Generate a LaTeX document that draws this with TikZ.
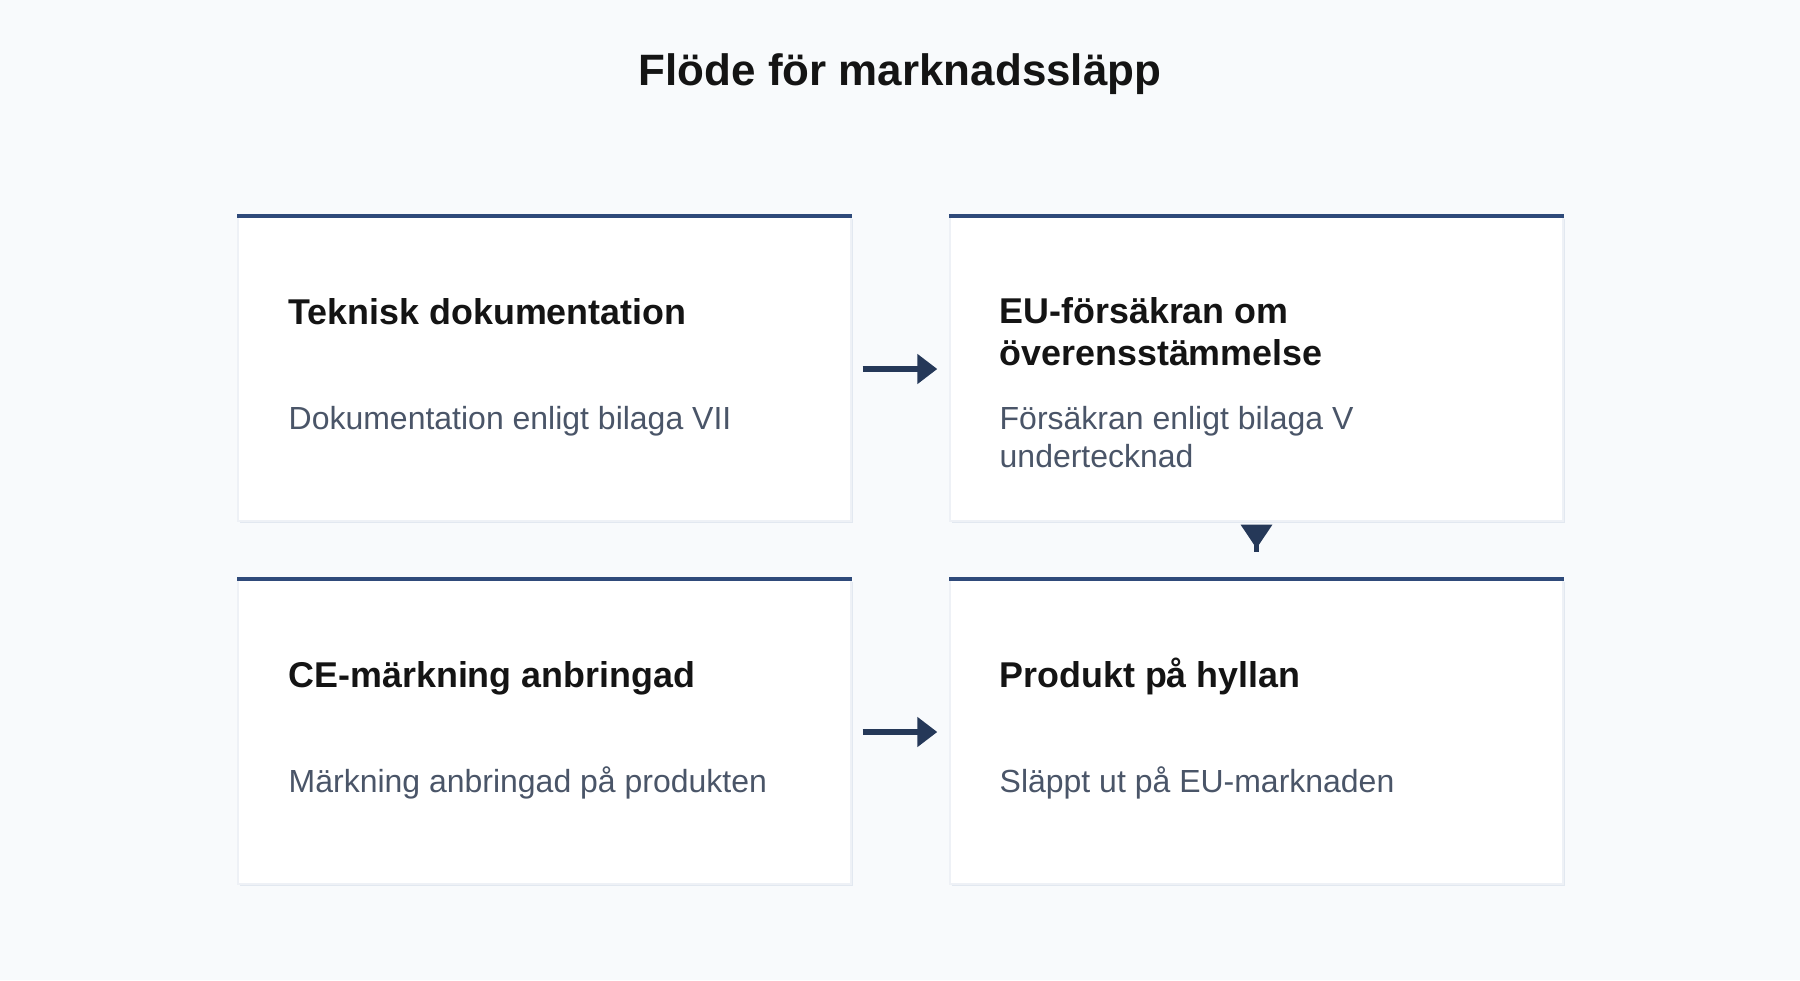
\documentclass[tikz,border=0pt]{standalone}
\usepackage{fontspec}
\setmainfont{Liberation Sans}
\usetikzlibrary{arrows.meta,shadows}

\definecolor{pagebg}{HTML}{F8FAFC}
\definecolor{accent}{HTML}{2F4A7A}
\definecolor{arrowc}{HTML}{253858}
\definecolor{edge}{HTML}{E2E8F0}
\definecolor{bodytxt}{HTML}{4A5568}
\definecolor{headtxt}{HTML}{141414}

\begin{document}
\begin{tikzpicture}[
    card/.style={
        rectangle,
        minimum width=6.13cm,
        minimum height=3.04cm,
        inner sep=0pt,
        fill=white,
        draw=edge!60,
        line width=0.4pt,
        drop shadow={shadow xshift=0.5pt, shadow yshift=-0.6pt, fill=edge, opacity=1}
    },
    topbar/.style={draw=accent, line width=1.15pt},
    heading/.style={
        anchor=base west,
        inner sep=0pt,
        align=left,
        text=headtxt,
        font=\fontsize{10.2}{11.67}\selectfont\bfseries
    },
    desc/.style={
        anchor=base west,
        inner sep=0pt,
        align=left,
        text=bodytxt,
        font=\fontsize{9.1}{10.8}\selectfont
    },
    flow/.style={draw=arrowc, line width=1.45pt, -{Triangle[length=0.2cm, width=0.29cm]}}
]

\fill[pagebg] (0,0) rectangle (18,9.8);
\useasboundingbox (0,0) rectangle (18,9.8);

\node[anchor=base, text=headtxt, font=\fontsize{12.5}{15}\selectfont\bfseries] (title) at (9.0,8.95) {Flöde för marknadssläpp};

% cards
\node[card] (tekn) at (5.445,6.11) {};
\node[card] (eu) at (12.565,6.11) {};
\node[card] (ce) at (5.445,2.48) {};
\node[card] (prod) at (12.565,2.48) {};

\foreach \c in {tekn,eu,ce,prod}
    \draw[topbar] (\c.north west) -- (\c.north east);

% texts (base = last line)
\node[heading] (teknhead) at (2.88,6.56) {Teknisk dokumentation};
\node[desc] (tekndesc) at (2.88,5.51) {Dokumentation enligt bilaga VII};

\node[heading] (euhead) at (9.99,6.15) {EU-försäkran om\\överensstämmelse};
\node[desc] (eudesc) at (9.99,5.13) {Försäkran enligt bilaga V\\undertecknad};

\node[heading] (cehead) at (2.88,2.93) {CE-märkning anbringad};
\node[desc] (cedesc) at (2.88,1.88) {Märkning anbringad på produkten};

\node[heading] (prodhead) at (9.99,2.93) {Produkt på hyllan};
\node[desc] (proddesc) at (9.99,1.88) {Släppt ut på EU-marknaden};

% arrows
\draw[flow, shorten <=0.11cm, shorten >=0.12cm] (tekn.east) -- (eu.west);
\draw[flow, shorten <=0.11cm, shorten >=0.12cm] (ce.east) -- (prod.west);
\draw[draw=arrowc, line width=1.7pt, {Triangle[reversed, length=0.24cm, width=0.30cm]}-,
    shorten <=0.03cm, shorten >=0.27cm] (eu.south) -- (prod.north);

\end{tikzpicture}
\end{document}
